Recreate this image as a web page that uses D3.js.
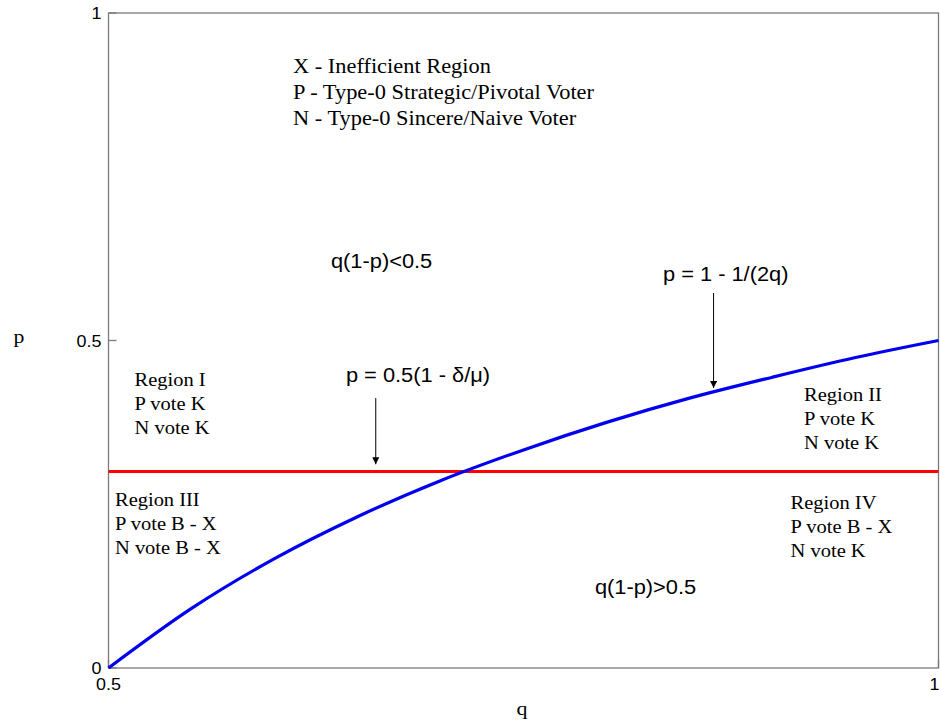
<!DOCTYPE html>
<html>
<head>
<meta charset="utf-8">
<script src="https://cdn.jsdelivr.net/npm/d3@7"></script>
<style>
  html, body { margin: 0; padding: 0; background: #fff; }
</style>
</head>
<body>
<div id="chart"></div>
<script>
// values
const qValues = [0.5, 0.55, 0.6, 0.65, 0.7, 0.75, 0.8, 0.85, 0.9, 0.95, 1.0];
const pCurve = [0, 0.091, 0.167, 0.231, 0.286, 0.333, 0.375, 0.412, 0.444, 0.474, 0.5];
const pThreshold = 0.3;
const xTicks = [0.5, 1];
const yTicks = [0, 0.5, 1];

const legendLines = [
  'X - Inefficient Region',
  'P - Type-0 Strategic/Pivotal Voter',
  'N - Type-0 Sincere/Naive Voter',
];
const regionLabels = [
  { lines: ['Region I', 'P vote K', 'N vote K'], q: 0.5157, p: 0.43 },
  { lines: ['Region II', 'P vote K', 'N vote K'], q: 0.919, p: 0.408 },
  { lines: ['Region III', 'P vote B - X', 'N vote B - X'], q: 0.5039, p: 0.248 },
  { lines: ['Region IV', 'P vote B - X', 'N vote K'], q: 0.9109, p: 0.243 },
];
const formulaLabels = [
  { text: 'q(1-p)<0.5', q: 0.634, p: 0.611 },
  { text: 'q(1-p)>0.5', q: 0.793, p: 0.113 },
  { text: 'p = 0.5(1 - δ/μ)', q: 0.643, p: 0.437 },
  { text: 'p = 1 - 1/(2q)', q: 0.834, p: 0.591 },
];
const arrows = [
  { q: 0.661, pFrom: 0.412, pTo: 0.311 },
  { q: 0.8645, pFrom: 0.5725, pTo: 0.4275 },
];

const W = 940;
const H = 726;
const margin = { top: 13, right: 1.5, bottom: 58, left: 108.5 };
const iw = W - margin.left - margin.right;
const ih = H - margin.top - margin.bottom;
const stretch = 1.12;
const SERIF = '"Liberation Serif", "Times New Roman", serif';
const SANS = '"Liberation Sans", Arial, sans-serif';

const svg = d3.select('#chart').append('svg').attr('width', W).attr('height', H);
const chart = svg.append('g').attr('transform', `translate(${margin.left},${margin.top})`);

const x = d3.scaleLinear().domain([0.5, 1]).range([0, iw]);
const y = d3.scaleLinear().domain([0, 1]).range([ih, 0]);

// stretched text helper (the picture is a little wider than tall)
function label(parent, px, py, txt, font, size, anchor) {
  const g = parent.append('g').attr('transform', `translate(${px},${py}) scale(${stretch},1)`);
  g.append('text')
    .attr('text-anchor', anchor || 'start')
    .attr('font-family', font)
    .attr('font-size', size)
    .attr('fill', '#000')
    .text(txt);
  return g;
}

// frame
chart.append('rect')
  .attr('x', 0).attr('y', 0).attr('width', iw).attr('height', ih)
  .attr('fill', 'none').attr('stroke', '#7a7a7a').attr('stroke-width', 1.3);

// inward ticks
chart.selectAll('.ytick').data(yTicks).join('line')
  .attr('class', 'ytick')
  .attr('x1', 0).attr('x2', 8)
  .attr('y1', (d) => y(d)).attr('y2', (d) => y(d))
  .attr('stroke', '#7a7a7a').attr('stroke-width', 1.3);
chart.selectAll('.xtick').data(xTicks).join('line')
  .attr('class', 'xtick')
  .attr('x1', (d) => x(d)).attr('x2', (d) => x(d))
  .attr('y1', ih).attr('y2', ih - 8)
  .attr('stroke', '#7a7a7a').attr('stroke-width', 1.3);

yTicks.forEach((v) => label(chart, -7, y(v) + 6, String(v), SANS, 16, 'end'));
xTicks.forEach((v) => {
  // last label sits against the right edge, as in the original
  const atEdge = v === 1;
  label(chart, atEdge ? iw + 1 : x(v), ih + 22, String(v), SANS, 16, atEdge ? 'end' : 'middle');
});

// axis titles
label(svg, 19, 343, 'p', SERIF, 19.5, 'middle');
label(svg, 522, 715, 'q', SERIF, 19.5, 'middle');

// red threshold line
chart.append('line')
  .attr('x1', x(0.5)).attr('x2', x(1))
  .attr('y1', y(pThreshold)).attr('y2', y(pThreshold))
  .attr('stroke', '#ff0000').attr('stroke-width', 3.2);

// blue curve
const line = d3.line().x((d) => x(d[0])).y((d) => y(d[1])).curve(d3.curveMonotoneX);
chart.append('path')
  .datum(qValues.map((q, i) => [q, pCurve[i]]))
  .attr('d', line)
  .attr('fill', 'none')
  .attr('stroke', '#0000ee')
  .attr('stroke-width', 3.2);

// arrows
svg.append('defs').append('marker')
  .attr('id', 'head')
  .attr('viewBox', '0 0 10 10')
  .attr('refX', 10).attr('refY', 5)
  .attr('markerWidth', 7).attr('markerHeight', 7)
  .attr('markerUnits', 'userSpaceOnUse')
  .attr('orient', 'auto')
  .append('path').attr('d', 'M0,0 L10,5 L0,10 Z').attr('fill', '#000');
arrows.forEach((a) => {
  chart.append('line')
    .attr('x1', x(a.q)).attr('x2', x(a.q))
    .attr('y1', y(a.pFrom)).attr('y2', y(a.pTo))
    .attr('stroke', '#000').attr('stroke-width', 1)
    .attr('marker-end', 'url(#head)');
});

// legend
legendLines.forEach((t, i) => label(svg, 293, 73 + i * 26, t, SERIF, 20));

// region labels
regionLabels.forEach((r) => {
  r.lines.forEach((t, i) => label(chart, x(r.q), y(r.p) + i * 24, t, SERIF, 18.3));
});

// formula labels
formulaLabels.forEach((f) => label(chart, x(f.q), y(f.p), f.text, SANS, 19.5));
</script>
</body>
</html>
